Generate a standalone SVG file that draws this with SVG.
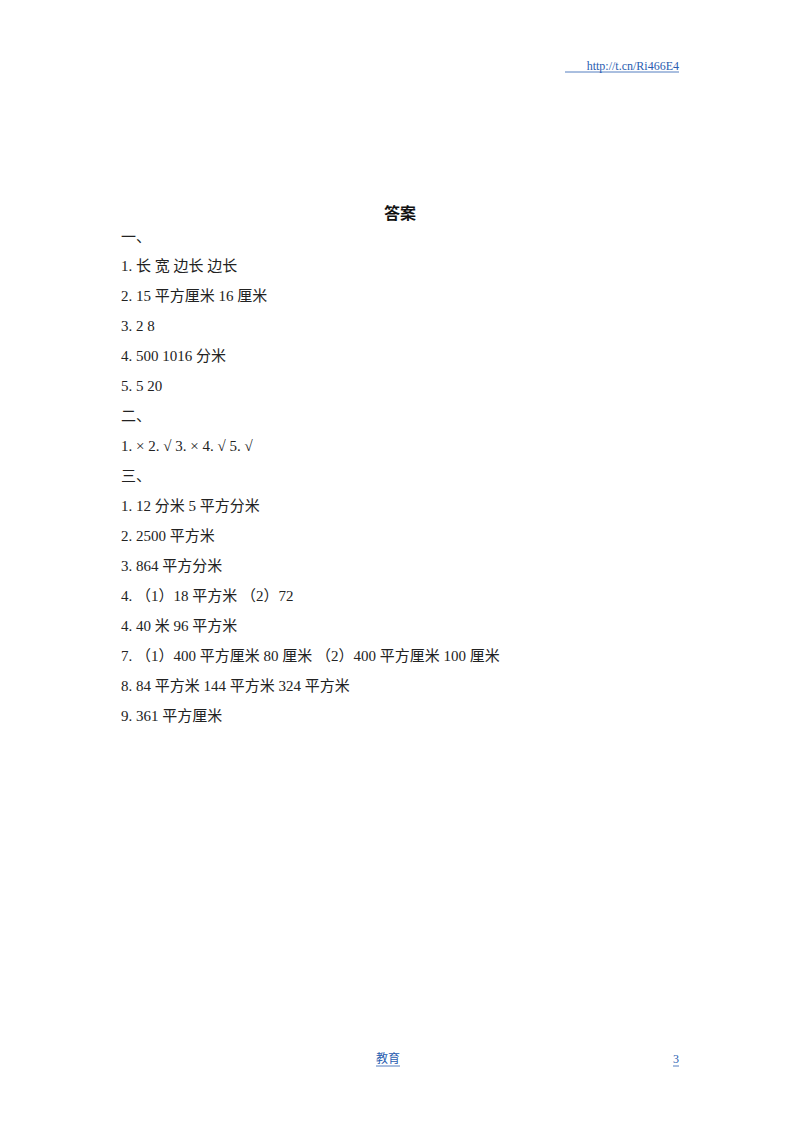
<svg xmlns="http://www.w3.org/2000/svg" width="800" height="1132" viewBox="0 0 800 1132">
<style>
.t{font-family:"Liberation Serif","Noto Sans CJK SC",serif;font-size:15px;fill:#222}
.l{font-family:"Liberation Serif","Noto Sans CJK SC",serif;font-size:12px;fill:#2a5db0}
.d{fill:#e0a000}
</style>
<rect width="800" height="1132" fill="#fff"/>
<text class="l" x="679" y="70" text-anchor="end" font-family="Liberation Mono">http://t.cn/Ri466E4</text>
<line x1="565" y1="72" x2="679" y2="72" stroke="#2a5db0" stroke-width="0.8"/>
<text x="400" y="219" text-anchor="middle" font-family="Noto Sans CJK SC,sans-serif" font-size="16" font-weight="bold" fill="#111">答案</text>
<g class="t">
<text x="121" y="242">一、</text>
<text x="121" y="271">1.  长  宽  边长  边长</text>
<text x="121" y="301">2.  15 平方厘米  16 厘米</text>
<text x="121" y="331">3.  2    8</text>
<text x="121" y="361">4.  500  1016 分米</text>
<text x="121" y="391">5.  5  20</text>
<text x="121" y="421">二、</text>
<text x="121" y="451">1. × 2. √  3. × 4. √  5. √</text>
<text x="121" y="481">三、</text>
<text x="121" y="511">1.  12 分米  5 平方分米</text>
<text x="121" y="541">2.  2500 平方米</text>
<text x="121" y="571">3.  864 平方分米</text>
<text x="121" y="601">4. （1）18 平方米  （2）72</text>
<text x="121" y="631">4.  40 米  96 平方米</text>
<text x="121" y="661">7. （1）400 平方厘米  80 厘米    （2）400 平方厘米  100 厘米</text>
<text x="121" y="691">8.  84 平方米  144 平方米  324 平方米</text>
<text x="121" y="721">9.  361 平方厘米</text>
</g>
<text class="l" x="388" y="1063" text-anchor="middle" font-family="Noto Sans CJK SC,sans-serif">教育</text>
<line x1="376" y1="1066" x2="400" y2="1066" stroke="#2a5db0" stroke-width="0.8"/>
<text class="l" x="676" y="1063" text-anchor="middle">3</text>
<line x1="673" y1="1066" x2="679" y2="1066" stroke="#2a5db0" stroke-width="0.8"/>
</svg>
